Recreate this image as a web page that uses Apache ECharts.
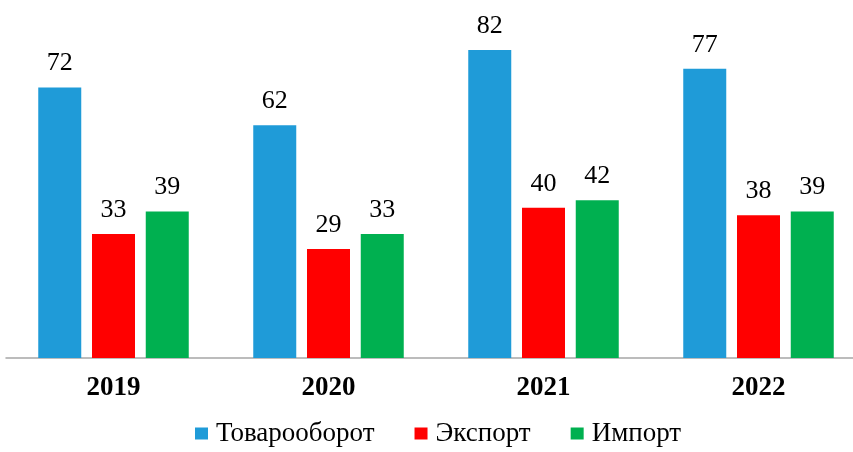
<!DOCTYPE html>
<html>
<head>
<meta charset="utf-8">
<script src="https://cdn.jsdelivr.net/npm/echarts@6/dist/echarts.min.js"></script>
<style>html,body{margin:0;padding:0;background:#fff}#c{width:853px;height:452px}</style>
</head>
<body>
<div id="c"></div>
<script>
const categories = ['2019', '2020', '2021', '2022'];
const seriesNames = ['Товарооборот', 'Экспорт', 'Импорт'];
const turnover = [72, 62, 82, 77];
const exportVals = [33, 29, 40, 38];
const importVals = [39, 33, 42, 39];
const colors = ['#1f9bd8', '#ff0000', '#00b050'];

const font = '"Liberation Serif", "Times New Roman", serif';
const chart = echarts.init(document.getElementById('c'));
const mk = (name, data, color) => ({
  name, type: 'bar', data, barWidth: 43, barGap: '25%',
  itemStyle: { color },
  label: { show: true, position: 'top', distance: 11, color: '#000', fontFamily: font, fontSize: 26 }
});
chart.setOption({
  animation: false,
  textStyle: { fontFamily: font },
  grid: { left: 6, right: -13, top: 20, bottom: 94, containLabel: false, outerBoundsMode: 'none' },
  legend: {
    bottom: 0, left: 190, itemWidth: 13, itemHeight: 12, itemGap: 40,
    icon: 'rect',
    textStyle: { fontFamily: font, fontSize: 27, color: '#000', padding: [0, 0, 0, 3] },
    data: seriesNames
  },
  xAxis: {
    type: 'category', data: categories,
    axisLine: { lineStyle: { color: '#a6a6a6', width: 1.5 } },
    axisTick: { show: false },
    axisLabel: { fontFamily: font, fontSize: 27, fontWeight: 'bold', color: '#000', margin: 17 }
  },
  yAxis: { type: 'value', min: 0, max: 90, show: false, splitLine: { show: false } },
  series: [
    mk(seriesNames[0], turnover, colors[0]),
    mk(seriesNames[1], exportVals, colors[1]),
    mk(seriesNames[2], importVals, colors[2])
  ]
});
</script>
</body>
</html>
